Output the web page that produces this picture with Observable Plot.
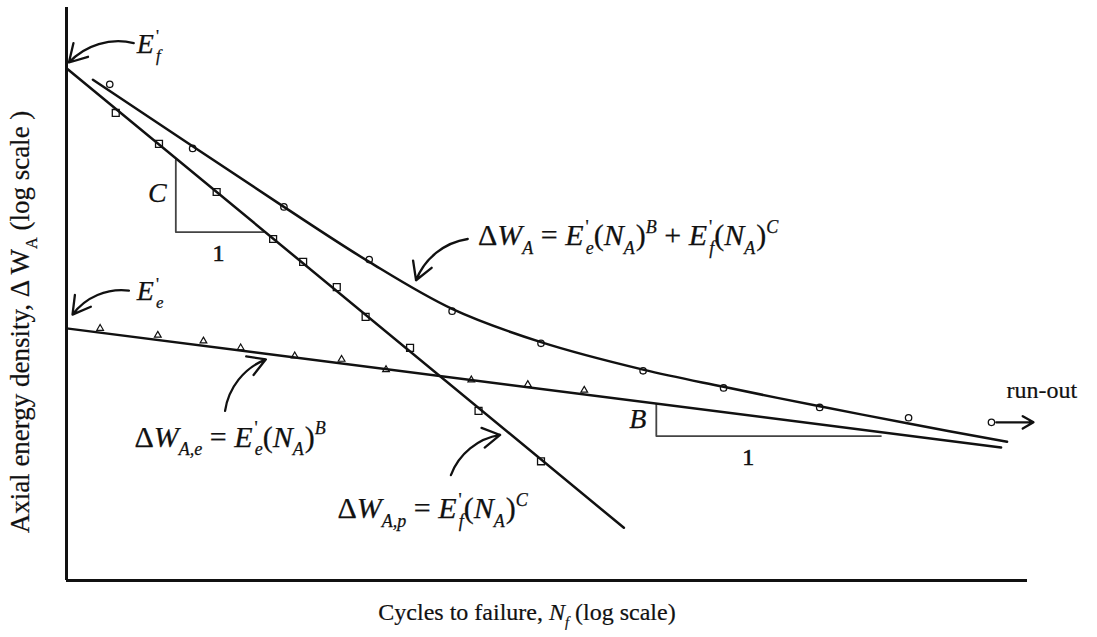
<!DOCTYPE html>
<html>
<head>
<meta charset="utf-8">
<script src="https://cdn.jsdelivr.net/npm/d3@7"></script>
<script src="https://cdn.jsdelivr.net/npm/@observablehq/plot@0.6"></script>
<style>
  html, body { margin: 0; padding: 0; background: #fff; }
  #chart svg { display: block; }
</style>
</head>
<body>
<div id="chart"></div>
<script>
// All positions are decimal logarithms: logN = log10(cycles), logW = log10(energy density).

// Total-life test points (circles) and the fitted total curve
const circleLogN = [0.36, 1.05, 1.81, 2.52, 3.21, 3.95, 4.80, 5.47, 6.27, 7.01, 7.70];
const circleLogW = [4.33, 3.77, 3.26, 2.80, 2.35, 2.07, 1.83, 1.68, 1.51, 1.42, 1.38];
const totalLogN = [0.22, 1.05, 1.81, 2.52, 3.21, 3.95, 4.80, 5.47, 6.27, 7.01, 7.83];
const totalLogW = [4.37, 3.79, 3.26, 2.78, 2.37, 2.08, 1.84, 1.69, 1.52, 1.37, 1.21];

// Plastic part (squares) and its straight line, intercept E'f
const squareLogN = [0.41, 0.77, 1.25, 1.72, 1.97, 2.25, 2.49, 2.86, 3.43, 3.95];
const squareLogW = [4.08, 3.81, 3.39, 2.98, 2.78, 2.56, 2.30, 2.03, 1.48, 1.04];
const plasticLogN = [0, 4.64];
const plasticLogW = [4.47, 0.46];

// Elastic part (triangles) and its straight line, intercept E'e
const triangleLogN = [0.28, 0.76, 1.14, 1.45, 1.90, 2.29, 2.66, 3.37, 3.84, 4.31];
const triangleLogW = [2.20, 2.14, 2.09, 2.03, 1.96, 1.93, 1.84, 1.75, 1.71, 1.66];
const elasticLogN = [0, 7.78];
const elasticLogW = [2.20, 1.16];

// Slope triangles (exponents C and B)
const slopeCLogN = [0.91, 0.91, 1.64];
const slopeCLogW = [3.67, 3.04, 3.04];
const slopeBLogN = [4.91, 4.91, 6.78];
const slopeBLogW = [1.54, 1.26, 1.26];

// Annotation arrows: tail -> head
const arrowFromN = [0.56, 0.52, 3.34, 1.32, 3.20, 7.74];
const arrowFromW = [4.69, 2.53, 2.98, 1.48, 0.92, 1.38];
const arrowToN   = [0.02, 0.05, 2.91, 1.66, 3.61, 8.05];
const arrowToW   = [4.52, 2.32, 2.62, 1.93, 1.27, 1.38];
const arrowBend  = [-30, -30, -30, 30, 30, 0];

const ink = "#111";
const serif = "'Liberation Serif', 'Times New Roman', serif";

const arrows = arrowBend.map((bend, i) =>
  Plot.arrow([i], {
    x1: [arrowFromN[i]], y1: [arrowFromW[i]],
    x2: [arrowToN[i]], y2: [arrowToW[i]],
    bend, stroke: ink, strokeWidth: 2.3, headLength: 13
  })
);

const plot = Plot.plot({
  width: 1097,
  height: 637,
  marginLeft: 66,
  marginRight: 70,
  marginTop: 7,
  marginBottom: 57,
  x: {domain: [0, 8], axis: null},
  y: {domain: [0, 5], axis: null},
  style: {background: "white", overflow: "visible"},
  marks: [
    Plot.line(slopeCLogN, {x: slopeCLogN, y: slopeCLogW, stroke: "#444", strokeWidth: 1.8}),
    Plot.line(slopeBLogN, {x: slopeBLogN, y: slopeBLogW, stroke: "#444", strokeWidth: 1.8}),
    Plot.line(plasticLogN, {x: plasticLogN, y: plasticLogW, stroke: ink, strokeWidth: 2.5}),
    Plot.line(elasticLogN, {x: elasticLogN, y: elasticLogW, stroke: ink, strokeWidth: 2.5}),
    Plot.line(totalLogN, {x: totalLogN, y: totalLogW, curve: "catmull-rom", stroke: ink, strokeWidth: 2.5}),
    Plot.dot(circleLogN, {x: circleLogN, y: circleLogW, symbol: "circle", r: 3.2, stroke: ink, fill: "none", strokeWidth: 1.3}),
    Plot.dot(squareLogN, {x: squareLogN, y: squareLogW, symbol: "square", r: 3.9, stroke: ink, fill: "none", strokeWidth: 1.3}),
    Plot.dot(triangleLogN, {x: triangleLogN, y: triangleLogW, symbol: "triangle", r: 2.5, stroke: ink, fill: "none", strokeWidth: 1.2}),
    ...arrows,
    Plot.ruleX([0], {stroke: ink, strokeWidth: 3}),
    Plot.ruleY([0], {stroke: ink, strokeWidth: 3})
  ]
});

document.getElementById("chart").append(plot);

// Rich text: parts are [text, flags, dx]; flags: i = italic, b = subscript, p = superscript
const svg = d3.select(plot);
const sx = plot.scale("x"), sy = plot.scale("y");

function rich(x, y, parts, size, opts = {}) {
  const t = svg.append("text")
    .attr("x", x).attr("y", y)
    .attr("font-family", serif)
    .attr("font-size", size)
    .attr("fill", ink)
    .attr("stroke", ink)
    .attr("stroke-width", opts.weight ?? 0.25)
    .attr("text-anchor", opts.anchor || "start")
    .style("white-space", "pre");
  if (opts.rotate) t.attr("transform", `rotate(${opts.rotate},${x},${y})`);
  let shift = 0;
  for (const [s, f = "", dx = 0] of parts) {
    const target = f.includes("b") ? 0.28 * size : f.includes("p") ? -0.42 * size : 0;
    const ts = t.append("tspan").attr("dy", target - shift).text(s);
    if (dx) ts.attr("dx", dx);
    if (f.includes("i")) ts.attr("font-style", "italic");
    if (f.includes("b") || f.includes("p")) ts.attr("font-size", size * 0.6);
    shift = target;
  }
  return t;
}

const at = (n, w) => [sx.apply(n), sy.apply(w)];

// Intercepts
rich(...at(0.59, 4.60), [["E", "i"], ["'", "p", 2], ["f", "ib", -3]], 28);
rich(...at(0.59, 2.44), [["E", "i"], ["'", "p", 2], ["e", "ib", -3]], 28);

// Equations
rich(...at(3.43, 2.92), [
  ["Δ"], ["W", "i"], ["A", "ib"], [" = "],
  ["E", "i"], ["'", "p", 2], ["e", "ib", -3], ["("], ["N", "i"], ["A", "ib"], [")", "", 1], ["B", "ip"],
  [" + "],
  ["E", "i"], ["'", "p", 2], ["f", "ib", -3], ["("], ["N", "i"], ["A", "ib"], [")", "", 1], ["C", "ip"]
], 30);
rich(...at(0.57, 1.16), [
  ["Δ"], ["W", "i"], ["A,e", "ib"], [" = "],
  ["E", "i"], ["'", "p", 2], ["e", "ib", -3], ["("], ["N", "i"], ["A", "ib"], [")", "", 1], ["B", "ip"]
], 30);
rich(...at(2.26, 0.54), [
  ["Δ"], ["W", "i"], ["A,p", "ib"], [" = "],
  ["E", "i"], ["'", "p", 2], ["f", "ib", -3], ["("], ["N", "i"], ["A", "ib"], [")", "", 1], ["C", "ip"]
], 30);

// Slope labels
rich(...at(0.76, 3.30), [["C", "i"]], 28, {anchor: "middle"});
rich(...at(1.27, 2.78), [["1"]], 24, {anchor: "middle", weight: 0.6});
rich(...at(4.76, 1.33), [["B", "i"]], 28, {anchor: "middle"});
rich(...at(5.68, 1.00), [["1"]], 24, {anchor: "middle", weight: 0.6});

// Run-out marker
rich(...at(7.83, 1.59), [["run-out"]], 24, {weight: 0.2});

// Axis titles
rich(527, 620, [["Cycles to failure, "], ["N", "i"], ["f", "ib"], [" (log scale)"]], 24, {anchor: "middle", weight: 0.2});
rich(29, 322, [["Axial energy density, Δ W"], ["A", "b"], [" (log scale )"]], 27, {anchor: "middle", rotate: -90, weight: 0.2});
</script>
</body>
</html>
